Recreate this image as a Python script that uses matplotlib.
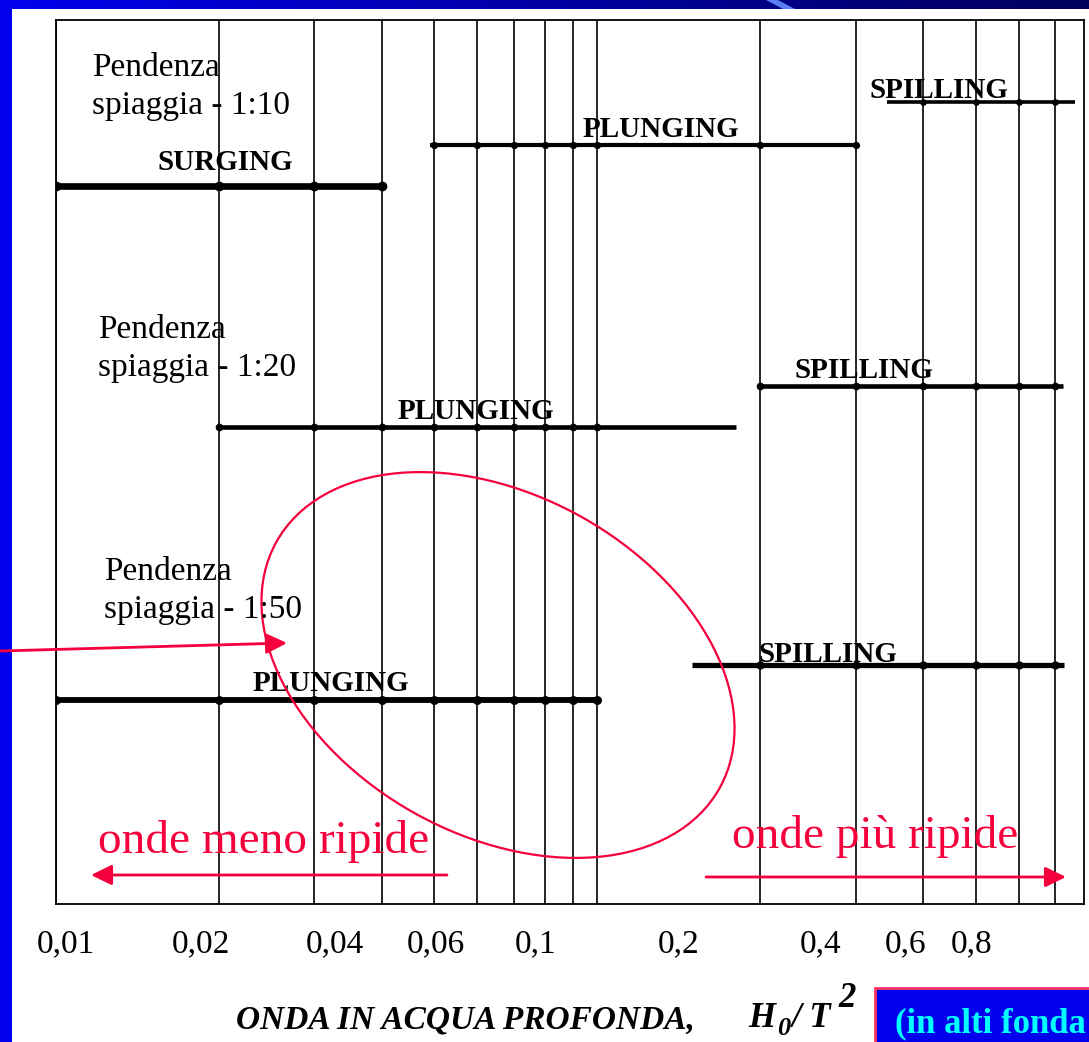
import numpy as np
import matplotlib.pyplot as plt
from matplotlib.patches import Ellipse, Rectangle, Polygon

plt.rcParams['font.family'] = ['Liberation Serif', 'DejaVu Serif']

# vertical lines of the log paper, H0/T^2
grid_x = [0.01, 0.02, 0.03, 0.04, 0.05, 0.06, 0.07, 0.08, 0.09, 0.1,
          0.2, 0.3, 0.4, 0.5, 0.6, 0.7]

# breaker bands (1:10, 1:10, 1:10, 1:20, 1:20, 1:50, 1:50)
band_names = ['SURGING', 'PLUNGING', 'SPILLING',
              'PLUNGING', 'SPILLING',
              'PLUNGING', 'SPILLING']
band_start = [0.01, 0.049, 0.343, 0.02, 0.2, 0.01, 0.1495]
band_end = [0.04, 0.3, 0.762, 0.18, 0.724, 0.1, 0.727]
band_level = [0.812, 0.859, 0.907, 0.540, 0.586, 0.231, 0.270]

slope_labels = ['Pendenza\nspiaggia - 1:10',
                'Pendenza\nspiaggia - 1:20',
                'Pendenza\nspiaggia - 1:50']

tick_labels = ['0,01', '0,02', '0,04', '0,06', '0,1', '0,2', '0,4', '0,6', '0,8']

# layout / style
W, H = 1089, 1042
band_lw = [4.8, 3.0, 2.6, 3.3, 3.3, 4.2, 3.8]
name_x = [0.0154, 0.0940, 0.3175, 0.0427, 0.2317, 0.0231, 0.198]
name_y = [0.830, 0.868, 0.912, 0.549, 0.595, 0.241, 0.274]
slope_pos = [(92, 52), (98, 314), (104, 556)]
tick_px = [66, 201, 335, 436, 536, 679, 821, 906, 972]
red = '#F5003D'
bi = dict(fontsize=25, fontweight='bold', fontstyle='italic', va='baseline')

fig = plt.figure(figsize=(W / 100, H / 100), dpi=100)
fig.patch.set_facecolor('white')

ax = fig.add_axes([56 / W, 1 - 904 / H, (1084 - 56) / W, (904 - 20) / H])
ax.set_xscale('log')
ax.set_xlim(0.01, 0.792)
ax.set_ylim(0, 1)
ax.tick_params(which='both', length=0, labelbottom=False, labelleft=False)
for sp in ax.spines.values():
    sp.set_linewidth(1.3)
    sp.set_color('black')

ax.vlines(grid_x, 0, 1, color='black', lw=1.2)

for name, s, e, lvl, lw, tx, ty in zip(band_names, band_start, band_end, band_level,
                                       band_lw, name_x, name_y):
    ax.plot([s, e], [lvl, lvl], color='black', lw=lw, solid_capstyle='butt')
    gx = [g for g in grid_x if s <= g <= e]
    ax.plot(gx, [lvl] * len(gx), 'o', color='black', ms=lw + 1.2)
    ax.text(tx, ty, name, fontsize=21, fontweight='bold', ha='left', va='baseline')

# overlay in pixel coordinates for slide decorations and annotations
ov = fig.add_axes([0, 0, 1, 1], zorder=5)
ov.patch.set_alpha(0)
ov.axis('off')

grad = np.zeros((1, 256, 3))
grad[0, :, 2] = np.linspace(0.93, 0.36, 256)
ov.imshow(grad, extent=[0, W, 9, 0], aspect='auto')
ov.add_patch(Polygon([(766, 0), (778, 0), (795, 9), (783, 9)], closed=True,
                     color='#5A7DF0', lw=0))
ov.add_patch(Rectangle((0, 0), 12, H, color='#0000EE', lw=0))
ov.set_xlim(0, W)
ov.set_ylim(H, 0)

for txt, (px, py) in zip(slope_labels, slope_pos):
    ov.text(px, py, txt, fontsize=24, ha='left', va='top', linespacing=1.35)

for lab, px in zip(tick_labels, tick_px):
    ov.text(px, 952, lab, fontsize=24, ha='center', va='baseline')

ov.text(236, 1028, 'ONDA IN ACQUA PROFONDA,', ha='left',
        **dict(bi, fontsize=24))
ov.text(748, 1027, 'H', ha='left', **bi)
ov.text(777, 1035, '0', ha='left', **dict(bi, fontsize=19))
ov.text(791, 1027, '/ T', ha='left', **bi)
ov.text(838, 1007, '2', ha='left', **bi)

ov.add_patch(Rectangle((875, 988), 240, 80, facecolor='#0000EE',
                       edgecolor='#FF3366', lw=2))
ov.text(895, 1032, '(in alti fonda', fontsize=25, fontweight='bold',
        color='#00FFFF', ha='left', va='baseline')

# red annotations
ov.add_patch(Ellipse((498, 665), 507, 340, angle=29, fill=False,
                     edgecolor=red, lw=1.6))
arrow = dict(arrowstyle='-|>,head_length=0.45,head_width=0.22', color=red,
             lw=2.0, shrinkA=0, shrinkB=0, mutation_scale=28)
ov.annotate('', xy=(287, 643), xytext=(0, 651), arrowprops=arrow)
ov.annotate('', xy=(91, 875), xytext=(447, 875), arrowprops=arrow)
ov.annotate('', xy=(1066, 877), xytext=(706, 877), arrowprops=arrow)

ov.text(98, 853, 'onde meno ripide', fontsize=34, color=red, ha='left', va='baseline')
ov.text(732, 848, 'onde più ripide', fontsize=34, color=red, ha='left', va='baseline')

fig.savefig('out.png', dpi=100)
